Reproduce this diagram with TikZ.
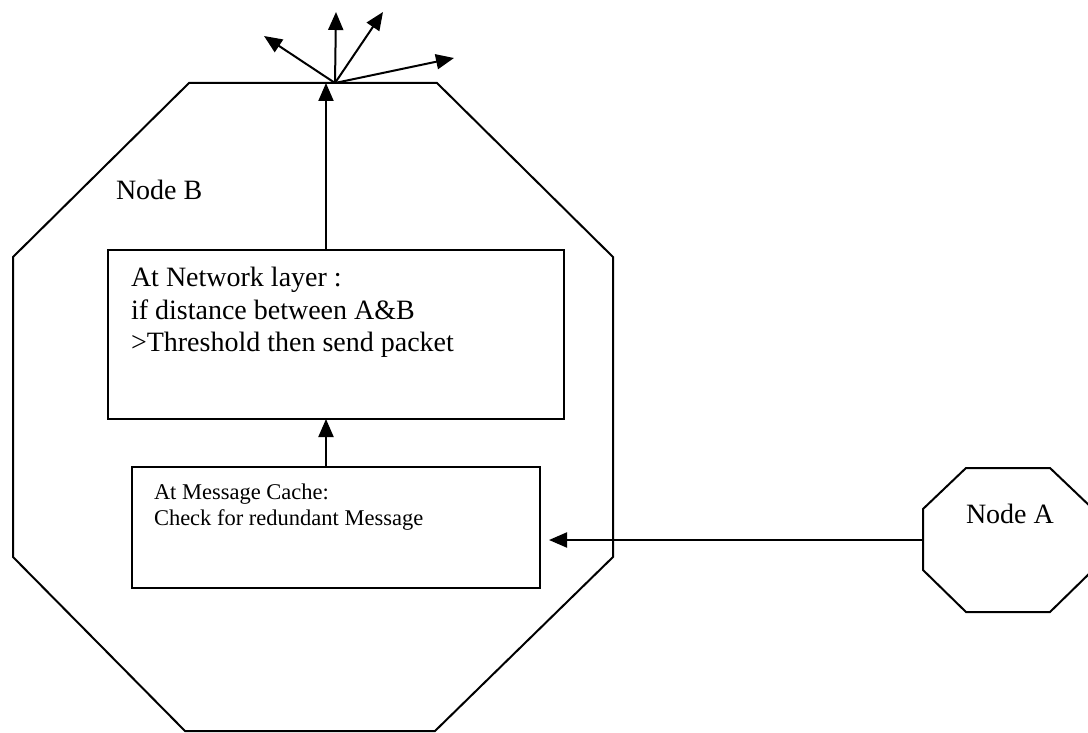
\documentclass[tikz,border=0pt]{standalone}
\usepackage{fontspec}
\setmainfont{Liberation Serif}
\usetikzlibrary{arrows.meta}
\begin{document}
\begin{tikzpicture}[x=1pt,y=-1pt, line width=2pt, line join=miter,
  arr/.style={-{Triangle[length=18pt,width=15pt]}},
  boxst/.style={draw, rectangle, inner sep=0pt, outer sep=0pt, anchor=north west},
  big/.style={anchor=base west, inner sep=0pt, font=\fontsize{28}{32}\selectfont},
  small/.style={anchor=base west, inner sep=0pt, font=\fontsize{22.5}{26}\selectfont}]
\useasboundingbox (0,0) rectangle (1088,733);
\fill[white] (0,0) rectangle (1088,733);

% Node B octagon
\draw (189,83) -- (437,83) -- (613,257) -- (613,557) -- (435,731) -- (185,731) -- (13,557) -- (13,257) -- cycle;
\node[big] (labB) at (115,200) {Node B};

% Node A octagon
\draw (966,468) -- (1050,468) -- (1093,509) -- (1093,570) -- (1050,612) -- (966,612) -- (923,570) -- (923,509) -- cycle;
\node[big] (labA) at (965,523) {Node A};
\coordinate (Aw) at (923,540);

% boxes
\node[boxst, minimum width=456pt, minimum height=169pt] (net) at (108,250) {};
\node[big] (n1) at (130,287) {At Network layer :};
\node[big] (n2) at (130,319) {if distance between A\&B};
\node[big] (n3) at (130,351) {>Threshold then send packet};

\node[boxst, minimum width=408pt, minimum height=121pt] (msg) at (132,467) {};
\node[small] (m1) at (153,499) {At Message Cache:};
\node[small] (m2) at (153,525) {Check for redundant Message};

% connectors
\coordinate (Btop) at (326,83);
\coordinate (fan) at (335,83);
\coordinate (t1) at (336,12);
\coordinate (t2) at (383,12);
\coordinate (t3) at (264,36);
\coordinate (t4) at (454,58);

\draw[arr] ([xshift=-10pt]net.north) -- (Btop);
\draw[arr] ([xshift=-10pt]msg.north) -- ([xshift=-10pt]net.south);
\draw[arr] (Aw) -- ([xshift=9pt]msg.east |- Aw);
\draw[arr] (fan) -- (t1);
\draw[arr] (fan) -- (t2);
\draw[arr] (fan) -- (t3);
\draw[arr] (fan) -- (t4);
\end{tikzpicture}
\end{document}
